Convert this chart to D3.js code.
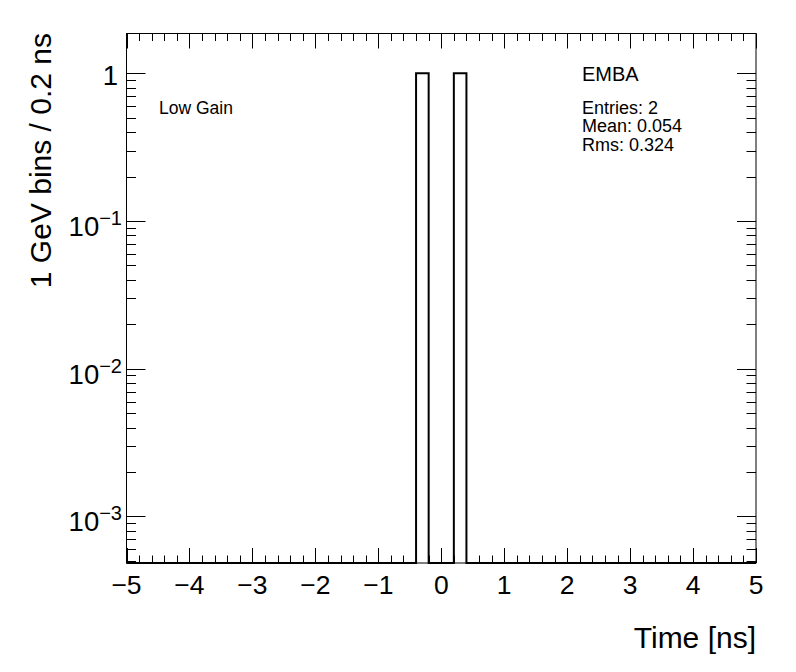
<!DOCTYPE html>
<html>
<head>
<meta charset="utf-8">
<script src="https://cdn.jsdelivr.net/npm/d3@7"></script>
<style>
  body { margin: 0; background: #fff; }
  text { font-family: "Liberation Sans", Arial, Helvetica, sans-serif; fill: #000; }
</style>
</head>
<body>
<div id="my_dataviz"></div>
<script>
// histogram contents: 50 bins of 0.2 ns from -5 to 5
const binEdgesRange = [-5, 5];
const binWidth = 0.2;
const binCounts = [
  0, 0, 0, 0, 0, 0, 0, 0, 0, 0,
  0, 0, 0, 0, 0, 0, 0, 0, 0, 0,
  0, 0, 0, 1, 0, 0, 1, 0, 0, 0,
  0, 0, 0, 0, 0, 0, 0, 0, 0, 0,
  0, 0, 0, 0, 0, 0, 0, 0, 0, 0
];
const xTicks = [-5, -4, -3, -2, -1, 0, 1, 2, 3, 4, 5];
const yTicks = [1, 0.1, 0.01, 0.001];
const yDomain = [4.84e-4, 1.86];
const statsLines = ["Entries: 2", "Mean: 0.054", "Rms: 0.324"];
const histName = "EMBA";
const gainLabel = "Low Gain";

// set the dimensions of the frame
const W = 796, H = 672;
const frame = { left: 126.5, right: 756, top: 33.5, bottom: 563 };

const svg = d3.select("#my_dataviz")
    .append("svg")
    .attr("width", W)
    .attr("height", H);

const x = d3.scaleLinear()
    .domain(binEdgesRange)
    .range([frame.left, frame.right]);

const y = d3.scaleLog()
    .domain(yDomain)
    .range([frame.bottom, frame.top]);

// histogram outline (ROOT style), empty bins sit on the frame bottom
const pts = [];
binCounts.forEach(function (c, i) {
    const x0 = binEdgesRange[0] + i * binWidth, x1 = x0 + binWidth;
    const yy = c > 0 ? y(c) : frame.bottom;
    pts.push([x(x0), yy], [x(x1), yy]);
});
pts.unshift([frame.left, frame.bottom]);
pts.push([frame.right, frame.bottom]);

svg.append("path")
    .attr("d", d3.line()(pts))
    .attr("fill", "none")
    .attr("stroke", "#000")
    .attr("stroke-width", 2);

// frame
svg.append("rect")
    .attr("x", frame.left)
    .attr("y", frame.top)
    .attr("width", frame.right - frame.left)
    .attr("height", frame.bottom - frame.top)
    .attr("fill", "none")
    .attr("stroke", "#000")
    .attr("stroke-width", 1);

// x ticks, bottom and top
const xMinor = d3.range(-5, 5.0001, 0.2);
const tk = svg.append("g").attr("stroke", "#000").attr("stroke-width", 1);
xMinor.forEach(function (v) {
    const major = xTicks.some(t => Math.abs(t - v) < 1e-6);
    const len = major ? 15 : 7.5;
    const px = Math.round(x(v)) + 0.5;
    tk.append("line").attr("x1", px).attr("x2", px)
        .attr("y1", frame.bottom).attr("y2", frame.bottom - len);
    tk.append("line").attr("x1", px).attr("x2", px)
        .attr("y1", frame.top).attr("y2", frame.top + len);
});

// y ticks, left and right
const yMinor = [];
[-4, -3, -2, -1, 0].forEach(function (e) {
    for (let m = 1; m <= 9; m++) {
        const v = m * Math.pow(10, e);
        if (v >= yDomain[0] && v <= yDomain[1]) yMinor.push({ v: v, major: m === 1 });
    }
});
yMinor.forEach(function (d) {
    const len = d.major ? 19 : 9.5;
    const py = Math.round(y(d.v)) + 0.5;
    tk.append("line").attr("x1", frame.left).attr("x2", frame.left + len)
        .attr("y1", py).attr("y2", py);
    tk.append("line").attr("x1", frame.right).attr("x2", frame.right - len)
        .attr("y1", py).attr("y2", py);
});

// x tick labels
svg.append("g").selectAll("text")
    .data(xTicks)
    .join("text")
    .attr("x", d => x(d))
    .attr("y", 594)
    .attr("text-anchor", "middle")
    .attr("font-size", 26.5)
    .text(d => d < 0 ? "\u2212" + Math.abs(d) : d);

// y tick labels (powers of ten)
const yl = svg.append("g");
yTicks.forEach(function (v) {
    const e = Math.round(Math.log10(v));
    if (e === 0) {
        yl.append("text")
            .attr("x", 118)
            .attr("y", y(v) + 11.5)
            .attr("text-anchor", "end")
            .attr("font-size", 27.5)
            .text("1");
    } else {
        const t = yl.append("text")
            .attr("x", 122)
            .attr("y", y(v) + 15)
            .attr("text-anchor", "end")
            .attr("font-size", 27.5);
        t.append("tspan").text("10");
        t.append("tspan")
            .attr("font-size", 20)
            .attr("dy", -11)
            .text("\u2212" + Math.abs(e));
    }
});

// axis titles
svg.append("text")
    .attr("x", 756)
    .attr("y", 648)
    .attr("text-anchor", "end")
    .attr("font-size", 30)
    .text("Time [ns]");

svg.append("text")
    .attr("transform", "translate(51, 33) rotate(-90)")
    .attr("text-anchor", "end")
    .attr("font-size", 30)
    .text("1 GeV bins / 0.2 ns");

// labels in the pad
svg.append("text")
    .attr("x", 159)
    .attr("y", 113.5)
    .attr("font-size", 17.5)
    .text(gainLabel);

svg.append("text")
    .attr("x", 582)
    .attr("y", 81)
    .attr("font-size", 20)
    .text(histName);

svg.append("g").selectAll("text")
    .data(statsLines)
    .join("text")
    .attr("x", 582)
    .attr("y", (d, i) => 113.5 + i * 18.7)
    .attr("font-size", 18)
    .text(d => d);
</script>
</body>
</html>
